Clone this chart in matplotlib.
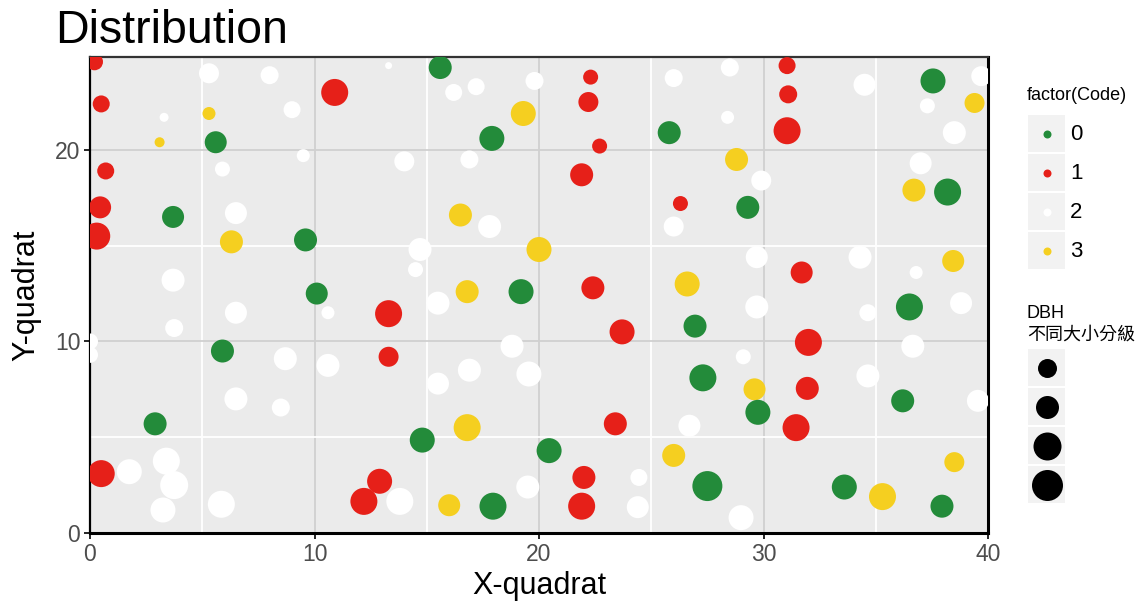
import matplotlib
matplotlib.use("Agg")
import matplotlib.pyplot as plt
from matplotlib.patches import Rectangle

plt.rcParams['font.family'] = ['Liberation Sans', 'Noto Sans CJK TC', 'DejaVu Sans']

# ---------------- data ----------------
x_quadrat = [0.2, 5.3, 8.0, 10.9, 0.5, 3.3, 5.3, 9.0, 3.1, 5.6, 9.5, 0.7, 5.9, 0.45, 3.7, 6.5, 0.3, 6.3, 9.6, 3.7, 10.1, 13.3,
             15.6, 16.2, 17.2, 19.8, 22.3, 22.2, 19.3, 17.9, 22.7, 26.0, 25.8, 14.0, 16.9, 21.9, 26.3, 16.5, 17.8, 26.0, 14.7, 20.0, 14.5, 16.8, 19.2, 22.4, 26.6, 15.5,
             28.5, 31.05, 31.1, 31.05, 28.4, 34.5, 37.55, 39.7, 37.3, 39.4, 38.5, 28.8, 29.9, 29.3, 37.0, 36.7, 38.2, 29.7, 34.3, 31.7, 38.45, 36.8,
             6.5, 10.6, 13.3, 3.75, 0.0, 0.0, 5.9, 8.7, 10.6, 13.3, 6.5, 8.5, 2.9, 0.5, 1.75, 3.4, 3.75, 3.25, 5.85, 12.9, 12.2, 13.8,
             23.7, 18.8, 16.9, 19.55, 15.5, 16.8, 14.8, 20.45, 23.4, 26.0, 19.5, 22.0, 21.9, 24.45, 24.4, 16.0, 17.95, 26.7, 26.95,
             29.7, 29.1, 27.3, 29.6, 29.75, 32.0, 31.95, 31.45, 34.65, 36.5, 38.8, 36.65, 34.65, 36.2, 39.55, 38.5, 27.5, 29.0, 33.6, 35.3, 37.95]
y_quadrat = [24.6, 24.0, 23.9, 23.0, 22.4, 21.7, 21.9, 22.1, 20.4, 20.4, 19.7, 18.9, 19.0, 17.0, 16.5, 16.7, 15.5, 15.2, 15.3, 13.2, 12.5, 24.4,
             24.3, 23.0, 23.3, 23.6, 23.8, 22.5, 21.9, 20.6, 20.2, 23.75, 20.9, 19.4, 19.5, 18.7, 17.2, 16.6, 16.0, 16.0, 14.8, 14.8, 13.75, 12.6, 12.6, 12.8, 13.0, 12.0,
             24.3, 24.4, 22.9, 21.0, 21.7, 23.4, 23.6, 23.85, 22.3, 22.45, 20.9, 19.5, 18.4, 17.0, 19.3, 17.9, 17.8, 14.4, 14.4, 13.6, 14.2, 13.6,
             11.5, 11.5, 11.45, 10.7, 10.0, 9.3, 9.5, 9.1, 8.75, 9.2, 7.0, 6.55, 5.7, 3.1, 3.2, 3.75, 2.5, 1.2, 1.5, 2.7, 1.65, 1.65,
             10.5, 9.75, 8.5, 8.3, 7.8, 5.5, 4.85, 4.3, 5.7, 4.05, 2.4, 2.9, 1.4, 2.9, 1.35, 1.45, 1.4, 5.6, 10.8,
             11.8, 9.2, 8.1, 7.5, 6.3, 9.95, 7.55, 5.5, 11.5, 11.8, 12.0, 9.75, 8.2, 6.9, 6.9, 3.7, 2.45, 0.8, 2.4, 1.9, 1.4]
code = [1, 2, 2, 1, 1, 2, 3, 2, 3, 0, 2, 1, 2, 1, 0, 2, 1, 3, 0, 2, 0, 2,
        0, 2, 2, 2, 1, 1, 3, 0, 1, 2, 0, 2, 2, 1, 1, 3, 2, 2, 2, 3, 2, 3, 0, 1, 3, 2,
        2, 1, 1, 1, 2, 2, 0, 2, 2, 3, 2, 3, 2, 0, 2, 3, 0, 2, 2, 1, 3, 2,
        2, 2, 1, 2, 2, 2, 0, 2, 2, 1, 2, 2, 0, 1, 2, 2, 2, 2, 2, 1, 1, 2,
        1, 2, 2, 2, 2, 3, 0, 0, 1, 3, 2, 1, 1, 2, 2, 3, 0, 2, 0,
        2, 2, 0, 3, 0, 1, 1, 1, 2, 0, 2, 2, 2, 0, 2, 3, 0, 2, 0, 3, 0]
dbh = [17, 20, 18, 27, 17, 9, 13, 17, 10, 22, 13, 17, 15, 22, 22, 22, 27, 23, 23, 23, 22, 7,
       23, 17, 17, 18, 15, 20, 25, 25, 15, 18, 23, 20, 18, 23, 15, 23, 23, 20, 23, 25, 15, 23, 25, 23, 25, 23,
       18, 17, 18, 27, 13, 22, 25, 20, 15, 20, 23, 23, 20, 23, 22, 23, 27, 22, 23, 22, 22, 13,
       22, 13, 27, 18, 16, 16, 23, 23, 23, 20, 23, 18, 23, 27, 25, 27, 28, 25, 27, 25, 27, 27,
       25, 23, 23, 25, 22, 27, 25, 25, 23, 23, 23, 23, 27, 17, 22, 22, 27, 22, 23,
       23, 15, 27, 22, 25, 27, 23, 27, 17, 27, 22, 23, 23, 23, 22, 20, 30, 25, 25, 27, 23]

code_levels = [0, 1, 2, 3]
code_colors = {0: '#238B3A', 1: '#E62019', 2: '#FFFFFF', 3: '#F5CF20'}
size_breaks = [19, 23, 28, 31]

x_ticks = [0, 10, 20, 30, 40]
y_ticks = [0, 10, 20]


def dbh_to_area(v):
    # diameter (px at 100 dpi) -> marker area in pt^2
    return (v * 0.72) ** 2


# ---------------- figure ----------------
W, H = 1145, 611
fig = plt.figure(figsize=(W / 100, H / 100), dpi=100)
ax = fig.add_axes([90 / W, 1 - 533 / H, (988 - 90) / W, (533 - 57) / H])
ax.set_facecolor('#EBEBEB')

colors = [code_colors[c] for c in code]
sizes = [dbh_to_area(v) for v in dbh]
ax.scatter(x_quadrat, y_quadrat, s=sizes, c=colors, linewidths=0, zorder=3)

ax.set_xlim(0, 40)
ax.set_ylim(0, 24.85)
ax.set_xticks(x_ticks)
ax.set_yticks(y_ticks)
ax.set_xticks([5, 15, 25, 35], minor=True)
ax.set_yticks([5, 15], minor=True)
ax.grid(which='major', color='#D0D0D0', linewidth=1.3, zorder=1)
ax.grid(which='minor', color='#FFFFFF', linewidth=1.3, zorder=1)
ax.set_axisbelow(True)
ax.tick_params(which='major', length=4, width=1.2, color='black',
               labelsize=16.5, labelcolor='#4D4D4D', pad=3)
ax.tick_params(which='minor', length=0)
for side, lw in (('left', 1.6), ('bottom', 2.2), ('right', 2.2), ('top', 1.6)):
    ax.spines[side].set_color('black' if side != 'top' else '#333333')
    ax.spines[side].set_linewidth(lw)

ax.set_xlabel('X-quadrat', fontsize=22, labelpad=4)
ax.set_ylabel('Y-quadrat', fontsize=22, labelpad=10)

fig.text(55 / W, 1 - 43 / H, 'Distribution', fontsize=33.5, ha='left', va='baseline')

# ---------------- legends (drawn in pixel coordinates) ----------------
lg = fig.add_axes([0, 0, 1, 1], facecolor='none', zorder=5)
lg.set_xlim(0, W)
lg.set_ylim(H, 0)
lg.axis('off')

lg.text(1027, 96, 'factor(Code)', fontsize=13, ha='left', va='center')
box_x, box_w, box_h = 1028, 37, 37
tops = [115, 154, 193, 232]
for lev, t in zip(code_levels, tops):
    lg.add_patch(Rectangle((box_x, t), box_w, box_h, facecolor='#F2F2F2', edgecolor='none'))
    lg.scatter([box_x + box_w / 2], [t + box_h / 2], s=dbh_to_area(8), c=code_colors[lev], linewidths=0)
    lg.text(1070, t + box_h / 2 + 1, str(lev), fontsize=16, ha='left', va='center', color='black')

lg.text(1027, 314, 'DBH', fontsize=13, ha='left', va='center')
lg.text(1027, 335, '不同大小分級', fontsize=13, ha='left', va='center')
stops = [349, 388, 427, 466]
for b, t in zip(size_breaks, stops):
    lg.add_patch(Rectangle((box_x, t), box_w, box_h, facecolor='#F2F2F2', edgecolor='none'))
    lg.scatter([box_x + box_w / 2], [t + box_h / 2], s=dbh_to_area(b), c='black', linewidths=0)

fig.savefig('out.png', dpi=100)
